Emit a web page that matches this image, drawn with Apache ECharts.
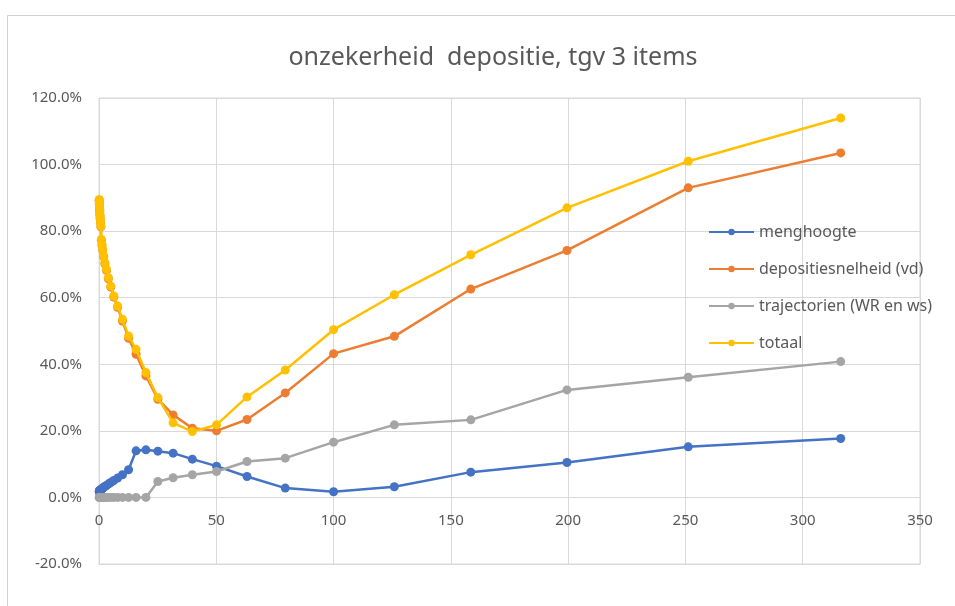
<!DOCTYPE html>
<html>
<head>
<meta charset="utf-8">
<script src="https://cdn.jsdelivr.net/npm/echarts@6/dist/echarts.min.js"></script>
<style>
html,body{margin:0;padding:0;background:#fff;}
#chart{width:955px;height:606px;}
</style>
</head>
<body>
<div id="chart"></div>
<script>
const titleText = 'onzekerheid  depositie, tgv 3 items';
const seriesNames = ['menghoogte', 'depositiesnelheid (vd)', 'trajectorien (WR en ws)', 'totaal'];
const xValues = [0.1,0.126,0.158,0.2,0.251,0.316,0.398,0.501,0.631,0.794,1,1.26,1.58,2,2.51,3.16,3.98,5.01,6.31,7.94,10,12.6,15.8,20,25.1,31.6,39.8,50.1,63.1,79.4,100,125.9,158.5,199.5,251.2,316.2];
const menghoogte = [1.8,1.8,1.9,1.9,2.0,2.0,2.1,2.1,2.2,2.3,2.4,2.6,2.8,3.0,3.3,3.6,4.0,4.5,5.1,5.8,6.8,8.3,14.0,14.3,13.9,13.3,11.5,9.4,6.3,2.8,1.7,3.2,7.6,10.5,15.2,17.7];
const depositiesnelheid = [89.3,88.8,88.1,87.4,86.6,85.8,84.8,83.8,82.6,81.3,77.3,75.8,74.3,72.3,70.2,68.2,65.7,63.2,60.2,57.1,53.0,47.8,43.0,36.5,29.5,24.8,20.8,20.0,23.4,31.4,43.2,48.4,62.6,74.2,93.0,103.5];
const trajectorien = [0,0,0,0,0,0,0,0,0,0,0,0,0,0,0,0,0,0,0,0,0,0,0,0,4.8,5.9,6.8,7.8,10.8,11.8,16.6,21.8,23.3,32.3,36.1,40.8];
const totaal = [89.5,89.0,88.3,87.6,86.8,86.0,85.0,84.0,82.8,81.5,77.5,76.0,74.5,72.5,70.5,68.5,66.0,63.5,60.5,57.5,53.5,48.5,44.5,37.5,30.0,22.4,19.8,21.8,30.2,38.3,50.4,60.9,72.9,87.0,101.0,114.0];
const colors = ['#4472C4', '#ED7D31', '#A5A5A5', '#FFC000'];
const xMin = 0, xMax = 350, xStep = 50;
const yMin = -20, yMax = 120, yStep = 20;

const valuesList = [menghoogte, depositiesnelheid, trajectorien, totaal];
const font = '"Noto Sans", sans-serif';

const gridTop = 98, gridBottom = 42, H = 606;
const plotH = H - gridTop - gridBottom;
const zeroOffset = -plotH * (0 - yMin) / (yMax - yMin);

const chart = echarts.init(document.getElementById('chart'), null, {renderer: 'canvas'});
chart.setOption({
  animation: false,
  backgroundColor: '#fff',
  color: colors,
  title: {
    text: titleText,
    left: 488,
    top: 40,
    textAlign: 'center',
    textStyle: {fontFamily: font, fontSize: 25, fontWeight: 'normal', color: '#595959'}
  },
  graphic: [{
    type: 'rect',
    shape: {x: 7.5, y: 15.5, width: 1000, height: 700},
    style: {fill: 'none', stroke: '#D0D0D0', lineWidth: 1},
    silent: true
  }],
  legend: {
    orient: 'vertical',
    left: 703,
    top: 219,
    itemWidth: 45,
    itemHeight: 8,
    itemGap: 21,
    data: seriesNames,
    textStyle: {fontFamily: font, fontSize: 16, color: '#595959'}
  },
  grid: {
    left: 99, right: 35, top: gridTop, bottom: gridBottom,
    show: true, borderColor: '#D9D9D9', borderWidth: 1, containLabel: false
  },
  xAxis: [{
    type: 'value', min: xMin, max: xMax, interval: xStep,
    position: 'bottom',
    offset: zeroOffset,
    axisLine: {show: true, onZero: false, lineStyle: {color: '#D9D9D9'}},
    axisTick: {show: false},
    axisLabel: {margin: 16, fontFamily: font, fontSize: 15, color: '#595959'},
    splitLine: {show: true, lineStyle: {color: '#D9D9D9'}}
  }, {
    type: 'value', min: xMin, max: xMax, interval: xStep,
    position: 'bottom',
    axisLine: {show: true, onZero: false, lineStyle: {color: '#D9D9D9'}},
    axisTick: {show: false},
    axisLabel: {show: false},
    splitLine: {show: false}
  }],
  yAxis: {
    type: 'value', min: yMin, max: yMax, interval: yStep,
    axisLine: {show: false},
    axisTick: {show: false},
    axisLabel: {margin: 17, fontFamily: font, fontSize: 15, color: '#595959',
      formatter: v => v.toFixed(1) + '%'},
    splitLine: {show: true, lineStyle: {color: '#D9D9D9'}}
  },
  series: seriesNames.map((name, i) => ({
    name: name,
    type: 'line',
    xAxisIndex: 0,
    data: xValues.map((x, j) => [x, valuesList[i][j]]),
    symbol: 'circle',
    symbolSize: 9,
    lineStyle: {width: 2.5, color: colors[i]},
    itemStyle: {color: colors[i]},
    z: 2 + i
  }))
});
</script>
</body>
</html>
